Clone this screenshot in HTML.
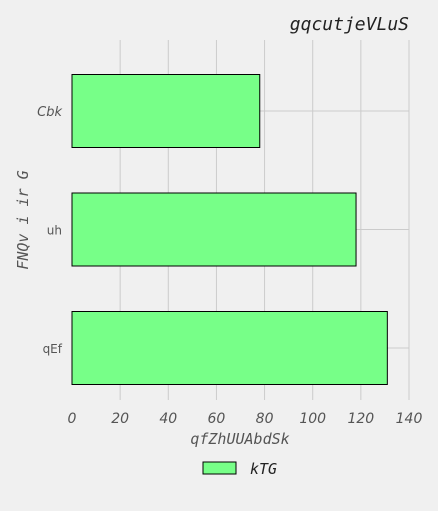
<!DOCTYPE html>
<html><head><meta charset="utf-8">
<style>
html,body{margin:0;padding:0;background:#f0f0f0;}
svg{display:block;}
</style></head>
<body>
<svg id="chart" width="438" height="511" xmlns="http://www.w3.org/2000/svg">
<rect width="438" height="511" fill="#f0f0f0"/>
<g id="grid"></g>
<g id="bars"></g>
<g id="ticks"></g>
<text x="409" y="30" text-anchor="end" font-family="DejaVu Sans Mono, monospace" font-style="italic" font-size="18" fill="#222">gqcutjeVLuS</text>
<text x="240" y="444" text-anchor="middle" font-family="DejaVu Sans Mono, monospace" font-style="italic" font-size="15" fill="#555">qfZhUUAbdSk</text>
<text x="28" y="220" text-anchor="middle" transform="rotate(-90 28 220)" font-family="DejaVu Sans Mono, monospace" font-style="italic" font-size="15" fill="#555">FNQv i ir G</text>
<g>
<rect x="203" y="462" width="33" height="12" fill="#77ff88" stroke="#000" stroke-width="1"/>
<text x="250" y="474" font-family="DejaVu Sans Mono, monospace" font-style="italic" font-size="15" fill="#222">kTG</text>
</g>
</svg>
<script>
const categories = ["Cbk","uh","qEf"];
const values = [78, 118, 131];
const xTicks = [0,20,40,60,80,100,120,140];
const NS="http://www.w3.org/2000/svg";
const x0=72, x1=409, xMax=140, plotTop=40, plotBottom=400;
function xs(v){return x0+(v/xMax)*(x1-x0);}
function yc(i){return 111+i*118.5;}
const bh=73;
function mk(tag,attrs,parent){const e=document.createElementNS(NS,tag);for(const k in attrs)e.setAttribute(k,attrs[k]);parent.appendChild(e);return e;}
const grid=document.getElementById('grid'),bars=document.getElementById('bars'),ticks=document.getElementById('ticks');
xTicks.forEach(t=>{
  if(t>0){const l=mk('line',{x1:xs(t),x2:xs(t),y1:plotTop,y2:plotBottom,stroke:'#cbcbcb','stroke-width':1},grid);
  
  }
  const tx=mk('text',{x:xs(t),y:423,'text-anchor':'middle','font-family':'DejaVu Sans, sans-serif','font-style':'italic','font-size':14,fill:'#555'},ticks);
  tx.textContent=t;
  
  
});
categories.forEach((c,i)=>{
  const l=mk('line',{x1:x0,x2:x1,y1:yc(i),y2:yc(i),stroke:'#cbcbcb','stroke-width':1},grid);
  
  
  const r=mk('rect',{x:xs(0),y:yc(i)-bh/2,width:xs(values[i])-xs(0),height:bh,fill:'#77ff88',stroke:'#000','stroke-width':1},bars);
  
  
  const tx=mk('text',{x:62,y:yc(i)+5,'text-anchor':'end','font-family':'DejaVu Sans, sans-serif','font-size':i==0?13:12,'font-style':i==0?'italic':'normal',fill:'#555'},ticks);
  tx.textContent=c;
  
  
});
</script>
</body></html>
